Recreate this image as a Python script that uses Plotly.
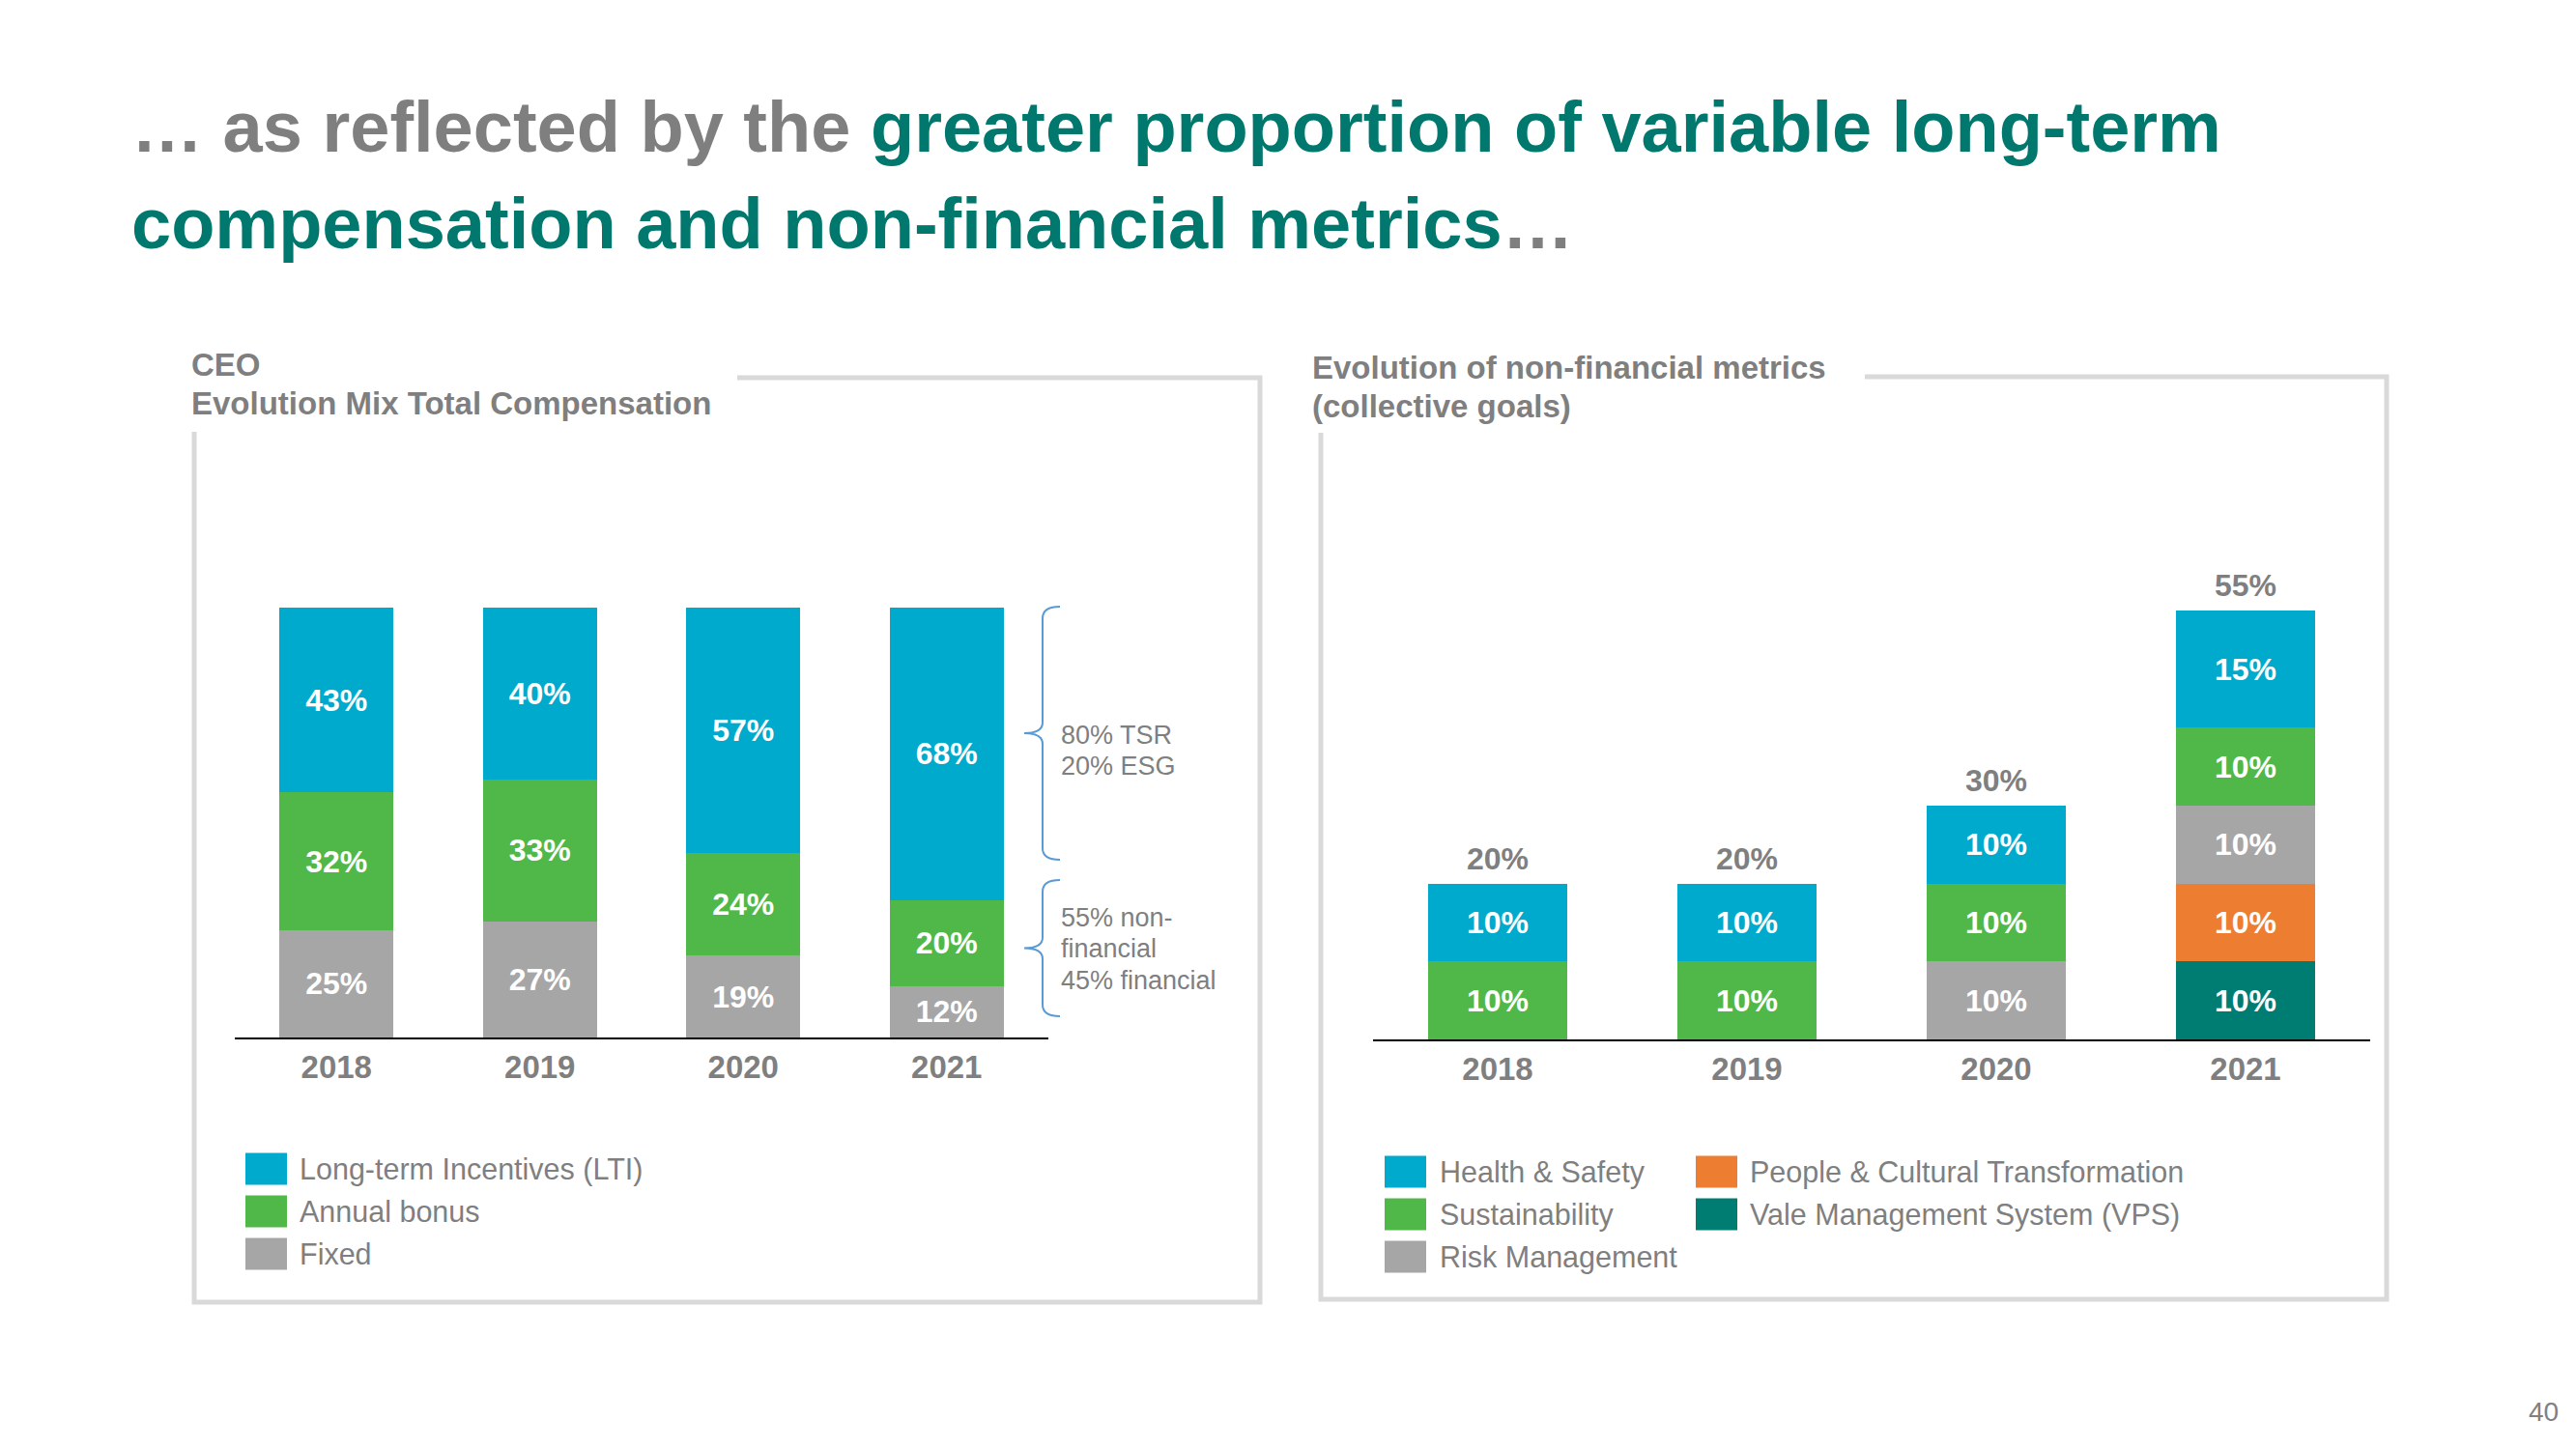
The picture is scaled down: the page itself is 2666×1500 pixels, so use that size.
import plotly.graph_objects as go

# ---------------- data ----------------
years = ["2018", "2019", "2020", "2021"]

# CEO - Evolution Mix Total Compensation (%)
ceo_names = ["Long-term Incentives (LTI)", "Annual bonus", "Fixed"]
lti = [43, 40, 57, 68]
bonus = [32, 33, 24, 20]
fixed = [25, 27, 19, 12]

# Evolution of non-financial metrics (%)
nf_names = ["Health & Safety", "Sustainability", "Risk Management",
            "People & Cultural Transformation", "Vale Management System (VPS)"]
health_safety = [10, 10, 10, 15]
sustainability = [10, 10, 10, 10]
risk_mgmt = [0, 0, 10, 10]
people_culture = [0, 0, 0, 10]
vps = [0, 0, 0, 10]

bracket_top_text = ["80% TSR", "20% ESG"]
bracket_bottom_text = ["55% non-", "financial", "45% financial"]

# ---------------- styles ----------------
W, H = 2666, 1500
C_BLUE = "#00AACC"
C_GREEN = "#50B848"
C_GRAY = "#A6A6A6"
C_ORANGE = "#ED7D31"
C_TEAL = "#007D73"
C_TITLE_TEAL = "#00786E"
C_TEXT = "#7F7F7F"
C_FRAME = "#D9D9D9"
C_BRACKET = "#5B9BD5"
FONT = "Liberation Sans, Arial, sans-serif"


def px(x):
    return x / W


def py(y):
    return 1 - y / H


def lbl(vals):
    return [f"{v}%" if v else "" for v in vals]


def nz(vals):
    return [v if v else None for v in vals]


fig = go.Figure()

bar_text_font = dict(family=FONT, size=32, color="white", weight="bold")

# left stacked bars (bottom -> top)
for name, vals, col in [(ceo_names[2], fixed, C_GRAY),
                        (ceo_names[1], bonus, C_GREEN),
                        (ceo_names[0], lti, C_BLUE)]:
    fig.add_trace(go.Bar(
        x=years, y=nz(vals), name=name, marker=dict(color=col, line=dict(width=0)),
        text=lbl(vals), textposition="inside", insidetextanchor="middle",
        textangle=0, textfont=bar_text_font, xaxis="x", yaxis="y",
        showlegend=False, hoverinfo="skip"))

# right stacked bars (bottom -> top)
for name, vals, col in [(nf_names[4], vps, C_TEAL),
                        (nf_names[3], people_culture, C_ORANGE),
                        (nf_names[2], risk_mgmt, C_GRAY),
                        (nf_names[1], sustainability, C_GREEN),
                        (nf_names[0], health_safety, C_BLUE)]:
    fig.add_trace(go.Bar(
        x=years, y=nz(vals), name=name, marker=dict(color=col, line=dict(width=0)),
        text=lbl(vals), textposition="inside", insidetextanchor="middle",
        textangle=0, textfont=bar_text_font, xaxis="x2", yaxis="y2",
        showlegend=False, hoverinfo="skip"))

totals = [a + b + c + d + e for a, b, c, d, e in
          zip(health_safety, sustainability, risk_mgmt, people_culture, vps)]

tickfont = dict(family=FONT, size=33, color=C_TEXT, weight="bold")

fig.update_layout(
    width=W, height=H, margin=dict(l=0, r=0, t=0, b=0, autoexpand=False),
    paper_bgcolor="white", plot_bgcolor="white",
    barmode="stack", bargap=0.44, showlegend=False,
    xaxis=dict(domain=[px(243), px(1085)], type="category", anchor="y",
               categoryorder="array", categoryarray=years, range=[-0.5, 3.5],
               showline=True, linecolor="black", linewidth=2, ticks="",
               showgrid=False, tickfont=tickfont, ticklabelstandoff=0),
    yaxis=dict(domain=[py(1074), py(629)], range=[0, 100], visible=False),
    xaxis2=dict(domain=[px(1421), px(2453)], type="category", anchor="y2",
                categoryorder="array", categoryarray=years, range=[-0.5, 3.5],
                showline=True, linecolor="black", linewidth=2, ticks="",
                showgrid=False, tickfont=tickfont, ticklabelstandoff=0),
    yaxis2=dict(domain=[py(1076), py(592)], range=[0, 60], visible=False),
)

ann = []
shapes = []

# totals above right bars (x given as category index)
for i, t in enumerate(totals):
    ann.append(dict(text=f"{t}%", x=i, y=t, xref="x2", yref="y2",
                    xanchor="center", yanchor="middle", yshift=26, showarrow=False,
                    font=dict(family=FONT, size=32, color=C_TEXT, weight="bold")))

# title
title_font = dict(family=FONT, size=74, color=C_TITLE_TEAL, weight="bold")
ann.append(dict(
    text=f"<span style='color:{C_TEXT}'>… as reflected by the</span> greater proportion of variable long-term",
    x=px(134), y=py(131), xref="paper", yref="paper", xanchor="left", yanchor="middle",
    showarrow=False, font=title_font))
ann.append(dict(
    text=f"compensation and non-financial metrics<span style='color:{C_TEXT}'>…</span>",
    x=px(134), y=py(231), xref="paper", yref="paper", xanchor="left", yanchor="middle",
    showarrow=False, font=title_font))

# subtitles
sub_font = dict(family=FONT, size=33, color=C_TEXT, weight="bold")
for txt, x, y in [("CEO", 196, 377), ("Evolution Mix Total Compensation", 196, 417),
                  ("Evolution of non-financial metrics", 1356, 380),
                  ("(collective goals)", 1356, 420)]:
    ann.append(dict(text=txt, x=px(x), y=py(y), xref="paper", yref="paper",
                    xanchor="left", yanchor="middle", showarrow=False, font=sub_font))

# frames
shapes.append(dict(type="path", xref="paper", yref="paper",
                   path=f"M {px(763)},{py(391)} L {px(1304)},{py(391)} L {px(1304)},{py(1348)} "
                        f"L {px(201)},{py(1348)} L {px(201)},{py(447)}",
                   line=dict(color=C_FRAME, width=5)))
shapes.append(dict(type="path", xref="paper", yref="paper",
                   path=f"M {px(1930)},{py(390)} L {px(2470)},{py(390)} L {px(2470)},{py(1345)} "
                        f"L {px(1367)},{py(1345)} L {px(1367)},{py(448)}",
                   line=dict(color=C_FRAME, width=5)))


# brackets
def brace(top, bottom, xv=1079, hook=1097, tip=1060):
    mid = (top + bottom) / 2
    pts = [("M", hook, top), ("Q", xv, top, xv, top + 12), ("L", xv, mid - 11),
           ("Q", xv, mid, tip, mid), ("Q", xv, mid, xv, mid + 11),
           ("L", xv, bottom - 12), ("Q", xv, bottom, hook, bottom)]
    s = []
    for p in pts:
        cmd = p[0]
        coords = p[1:]
        cs = []
        for i in range(0, len(coords), 2):
            cs.append(f"{px(coords[i])},{py(coords[i + 1])}")
        s.append(cmd + " " + " ".join(cs))
    return " ".join(s)


shapes.append(dict(type="path", xref="paper", yref="paper", path=brace(628, 890),
                   line=dict(color=C_BRACKET, width=2)))
shapes.append(dict(type="path", xref="paper", yref="paper", path=brace(911, 1052),
                   line=dict(color=C_BRACKET, width=2)))

br_font = dict(family=FONT, size=27, color=C_TEXT)
for txt, y in zip(bracket_top_text, [761, 793]):
    ann.append(dict(text=txt, x=px(1096), y=py(y), xref="paper", yref="paper",
                    xanchor="left", yanchor="middle", showarrow=False, font=br_font))
for txt, y in zip(bracket_bottom_text, [950, 982, 1015]):
    ann.append(dict(text=txt, x=px(1096), y=py(y), xref="paper", yref="paper",
                    xanchor="left", yanchor="middle", showarrow=False, font=br_font))

# legends
leg_font = dict(family=FONT, size=30.5, color=C_TEXT)


def legend_item(name, color, sx, tx, yc):
    shapes.append(dict(type="rect", xref="paper", yref="paper",
                       x0=px(sx), x1=px(sx + 43), y0=py(yc + 16.5), y1=py(yc - 16.5),
                       fillcolor=color, line=dict(width=0)))
    ann.append(dict(text=name, x=px(tx), y=py(yc), xref="paper", yref="paper",
                    xanchor="left", yanchor="middle", showarrow=False, font=leg_font))


for name, col, yc in zip(ceo_names, [C_BLUE, C_GREEN, C_GRAY], [1210, 1254, 1298]):
    legend_item(name, col, 254, 308, yc)

right_leg = [(nf_names[0], C_BLUE, 1433, 1488, 1213),
             (nf_names[1], C_GREEN, 1433, 1488, 1257),
             (nf_names[2], C_GRAY, 1433, 1488, 1301),
             (nf_names[3], C_ORANGE, 1755, 1809, 1213),
             (nf_names[4], C_TEAL, 1755, 1809, 1257)]
for name, col, sx, tx, yc in right_leg:
    legend_item(name, col, sx, tx, yc)

# page number
ann.append(dict(text="40", x=px(2632), y=py(1461), xref="paper", yref="paper",
                xanchor="center", yanchor="middle", showarrow=False,
                font=dict(family=FONT, size=28, color="#808080")))

fig.update_layout(annotations=ann, shapes=shapes)
fig.write_html("out.html")
